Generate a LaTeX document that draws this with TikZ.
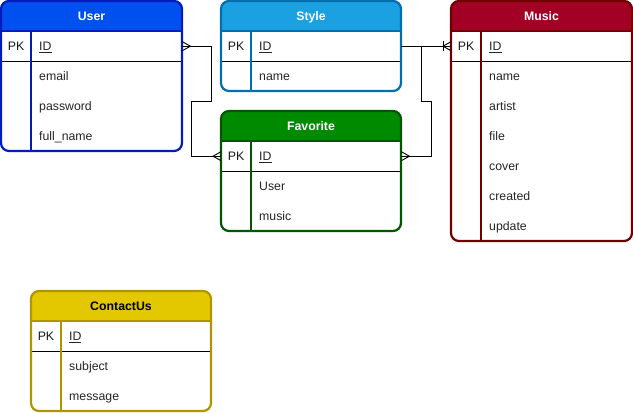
\documentclass[tikz,border=0pt]{standalone}
\usepackage{fontspec}
\setmainfont{Liberation Sans}
\usetikzlibrary{calc}
\definecolor{uFill}{HTML}{0050EF}\definecolor{uStroke}{HTML}{001DBC}
\definecolor{sFill}{HTML}{1BA1E2}\definecolor{sStroke}{HTML}{006EAF}
\definecolor{fFill}{HTML}{008A00}\definecolor{fStroke}{HTML}{005700}
\definecolor{mFill}{HTML}{A20025}\definecolor{mStroke}{HTML}{6F0000}
\definecolor{cFill}{HTML}{E3C800}\definecolor{cStroke}{HTML}{B09500}
\tikzset{
  ttl/.style={font=\fontsize{12.3}{14}\selectfont\bfseries, inner sep=0pt, anchor=base},
  fld/.style={font=\fontsize{12.3}{14}\selectfont, anchor=base west, inner sep=0pt, text=black!85},
  pkt/.style={font=\fontsize{12.3}{14}\selectfont, inner sep=0pt, anchor=base, text=black!90},
  rowbox/.style={anchor=north west, inner sep=0pt, minimum height=30pt},
  conn/.style={draw=black, line width=0.9pt},
}
\newcommand{\ertab}[9]{%
  \pgfmathsetmacro\erXa{#2}\pgfmathsetmacro\erYa{#3}%
  \pgfmathsetmacro\erXb{#4}\pgfmathsetmacro\erYb{#5}%
  \pgfmathsetmacro\erXm{(\erXa+\erXb)/2}\pgfmathsetmacro\erW{\erXb-\erXa}%
  \begin{scope}
    \clip[rounded corners=8pt] (\erXa,\erYa) rectangle (\erXb,\erYb);
    \fill[white] (\erXa,\erYa) rectangle (\erXb,\erYb);
    \fill[#6] (\erXa,\erYa) rectangle (\erXb,\erYa+30);
  \end{scope}
  \draw[black, line width=0.8pt] (\erXa,\erYa+60) -- (\erXb,\erYa+60);
  \draw[#7, line width=2.2pt] (\erXa,\erYa+30) -- (\erXb,\erYa+30);
  \draw[#7, line width=2.2pt] (\erXa+30,\erYa+30) -- (\erXa+30,\erYb);
  \draw[#7, line width=2.2pt, rounded corners=8pt] (\erXa,\erYa) rectangle (\erXb,\erYb);
  \node[ttl, text=#8] (#1) at (\erXm,\erYa+19.5) {#9};
  \node[rowbox, minimum width=\erW pt] (#1-id) at (\erXa,\erYa+30) {};
  \node[pkt] (#1-pk) at (\erXa+15,\erYa+49.5) {PK};
  \node[fld] (#1-idt) at (\erXa+38,\erYa+49.5) {\underline{ID}};
}
\begin{document}
\begin{tikzpicture}[x=1pt,y=-1pt]
\useasboundingbox (0,0) rectangle (633,413);

\ertab{user}{1}{1}{182}{151}{uFill}{uStroke}{white}{User}
\foreach \t [count=\i] in {email,password,full\_name}
  \node[fld] (user-f\i) at (39,50.5+30*\i) {\t};

\ertab{style}{221}{1}{401}{91}{sFill}{sStroke}{white}{Style}
\node[fld] (style-f1) at (259,80.5) {name};

\ertab{fav}{221}{111}{401}{231}{fFill}{fStroke}{white}{Favorite}
\foreach \t [count=\i] in {User,music}
  \node[fld] (fav-f\i) at (259,160.5+30*\i) {\t};

\ertab{music}{451}{1}{632}{241}{mFill}{mStroke}{white}{Music}
\foreach \t [count=\i] in {name,artist,file,cover,created,update}
  \node[fld] (music-f\i) at (489,50.5+30*\i) {\t};

\ertab{contact}{31}{291}{211}{411}{cFill}{cStroke}{black}{ContactUs}
\foreach \t [count=\i] in {subject,message}
  \node[fld] (contact-f\i) at (69,340.5+30*\i) {\t};

% connectors
\draw[conn] (user-id.east) -- ++(29,0) -- ++(0,55) -- ++(-20,0) |- (fav-id.west);
\draw[conn] (style-id.east) -- (music-id.west);
\draw[conn] (fav-id.east) -- ++(30,0) -- ++(0,-55) -- ++(-10,0) |- (music-id.west);

% crow's feet (many)
\draw[conn] ($(user-id.east)+(0,-4.5)$) -- ++(8,4.5) -- ++(-8,4.5);
\draw[conn] ($(fav-id.west)+(0,-4.5)$) -- ++(-8,4.5) -- ++(8,4.5);
\draw[conn] ($(fav-id.east)+(0,-4.5)$) -- ++(8,4.5) -- ++(-8,4.5);
% one-to-many at music
\draw[conn] ($(music-id.west)+(0,-4.5)$) -- ++(-8,4.5) -- ++(8,4.5);
\draw[conn] ($(music-id.west)+(-8,-5)$) -- ++(0,10);
\end{tikzpicture}
\end{document}
